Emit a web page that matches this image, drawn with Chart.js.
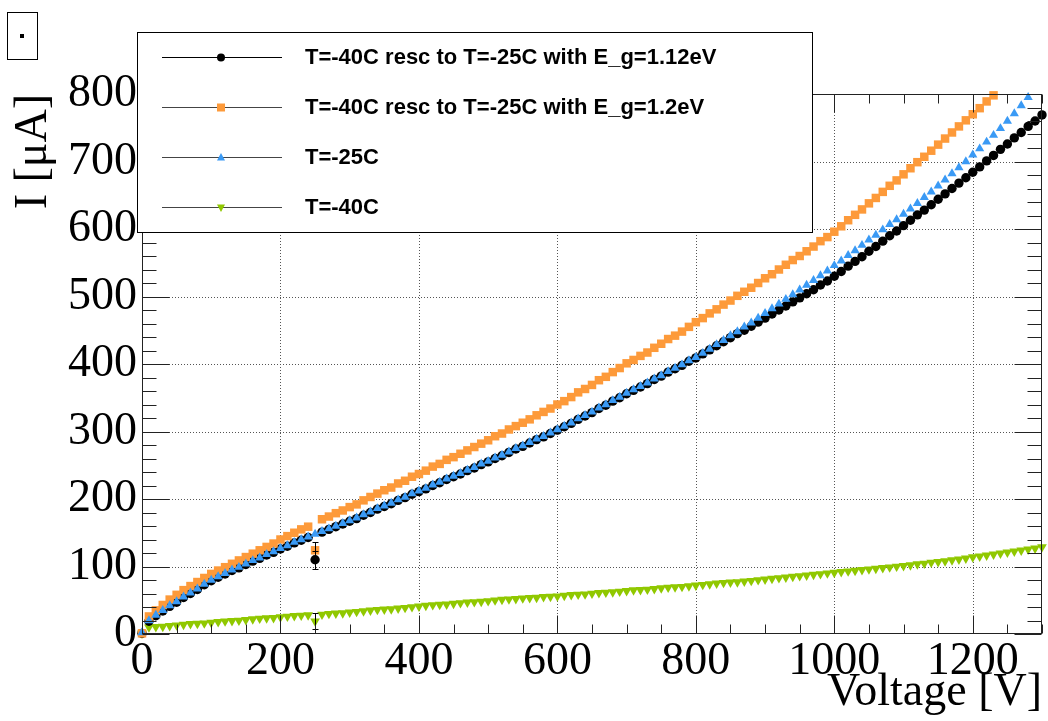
<!DOCTYPE html>
<html>
<head>
<meta charset="utf-8">
<title>IV curve</title>
<script src="https://cdn.jsdelivr.net/npm/chart.js@4.4.1/dist/chart.umd.min.js"></script>
<style>
  html, body { margin: 0; padding: 0; background: #fff; }
  #wrap { width: 1048px; height: 721px; }
</style>
</head>
<body>
<div id="wrap"><canvas id="ivChart" width="1048" height="721"></canvas></div>
<script>
// voltage steps (V)
const volts = [
  0, 10, 20, 30, 40, 50, 60, 70, 80, 90,
  100, 110, 120, 130, 140, 150, 160, 170, 180, 190,
  200, 210, 220, 230, 240, 250, 260, 270, 280, 290,
  300, 310, 320, 330, 340, 350, 360, 370, 380, 390,
  400, 410, 420, 430, 440, 450, 460, 470, 480, 490,
  500, 510, 520, 530, 540, 550, 560, 570, 580, 590,
  600, 610, 620, 630, 640, 650, 660, 670, 680, 690,
  700, 710, 720, 730, 740, 750, 760, 770, 780, 790,
  800, 810, 820, 830, 840, 850, 860, 870, 880, 890,
  900, 910, 920, 930, 940, 950, 960, 970, 980, 990,
  1000, 1010, 1020, 1030, 1040, 1050, 1060, 1070, 1080, 1090,
  1100, 1110, 1120, 1130, 1140, 1150, 1160, 1170, 1180, 1190,
  1200, 1210, 1220, 1230, 1240, 1250, 1260, 1270, 1280, 1290,
  1300
];

// T=-40C rescaled to T=-25C, E_g=1.12eV (uA)
const rescEg112 = [
  1, 19, 27, 34, 41, 47, 54, 60, 66, 73,
  79, 84, 89, 94, 98, 103, 108, 112, 117, 121,
  126, 130, 135, 139, 143, 110, 151, 155, 159, 163,
  167, 171, 176, 180, 185, 189, 193, 198, 202, 207,
  211, 215, 220, 224, 229, 233, 237, 242, 246, 251,
  255, 260, 264, 269, 274, 278, 283, 288, 292, 297,
  302, 307, 312, 318, 323, 328, 334, 339, 345, 350,
  356, 361, 366, 371, 377, 382, 388, 393, 398, 404,
  409, 415, 421, 427, 433, 439, 445, 450, 456, 462,
  468, 474, 480, 486, 492, 498, 504, 510, 517, 523,
  530, 537, 545, 552, 559, 567, 574, 582, 590, 597,
  605, 613, 621, 628, 636, 644, 652, 660, 668, 676,
  684, 692, 701, 709, 718, 726, 735, 743, 752, 760,
  769
];

// T=-40C rescaled to T=-25C, E_g=1.2eV (uA), leaves the frame after 1230 V
const rescEg120 = [
  1, 26, 35, 43, 51, 58, 65, 71, 77, 83,
  89, 94, 99, 104, 109, 114, 119, 124, 129, 134,
  140, 145, 150, 155, 159, 124, 170, 174, 179, 183,
  188, 192, 198, 203, 208, 213, 217, 223, 227, 233,
  237, 242, 248, 252, 258, 262, 267, 272, 277, 282,
  287, 293, 297, 303, 308, 313, 318, 324, 329, 334,
  340, 345, 351, 358, 363, 369, 376, 381, 388, 394,
  401, 406, 412, 417, 424, 430, 437, 442, 448, 455,
  462, 468, 475, 481, 488, 494, 501, 507, 513, 520,
  527, 533, 540, 547, 554, 560, 567, 574, 582, 588,
  596, 604, 613, 621, 629, 638, 646, 655, 664, 672,
  681, 690, 699, 707, 716, 725, 734, 743, 752, 761,
  770, 779, 789, 798
];

// T=-25C measured (uA), leaves the frame after 1280 V
const tMinus25 = [
  2, 20, 28, 35, 42, 48, 55, 61, 67, 74,
  80, 85, 90, 95, 99, 104, 109, 113, 118, 122,
  127, 131, 136, 140, 144, 148, 152, 156, 160, 164,
  168, 172, 177, 181, 186, 190, 194, 199, 203, 208,
  212, 216, 221, 225, 230, 234, 238, 243, 247, 252,
  256, 261, 265, 270, 275, 279, 284, 289, 293, 298,
  303, 308, 313, 319, 324, 329, 335, 340, 346, 351,
  357, 362, 367, 372, 378, 383, 389, 394, 399, 405,
  410, 416, 422, 429, 435, 442, 448, 455, 461, 468,
  475, 482, 489, 496, 503, 510, 517, 524, 531, 538,
  546, 553, 561, 568, 576, 584, 591, 599, 607, 614,
  622, 630, 638, 647, 655, 664, 673, 682, 691, 700,
  710, 719, 729, 739, 749, 760, 771, 783, 795
];

// T=-40C measured (uA)
const tMinus40 = [
  1, 10, 10.5, 11, 12, 13, 14, 15, 15.5, 16,
  17, 18, 19, 19.5, 20, 21, 22, 23, 23.5, 24,
  25, 26, 27, 27.5, 28, 19, 29, 30, 30.5, 31,
  32, 33, 34, 35, 36, 36.5, 37, 38, 39, 40,
  41, 42, 43, 43.5, 44, 45, 46, 47, 47.5, 48,
  49, 50, 51, 51.5, 52, 53, 53.5, 54, 55, 55.5,
  56, 57, 58, 58.5, 59, 60, 61, 61.5, 62, 63,
  64, 65, 65.5, 66, 67, 68, 69, 69.5, 70, 71,
  72, 73, 74, 75, 76, 76.5, 77, 78, 79, 80,
  81, 82, 83, 84, 85, 86, 87, 88, 89, 90,
  91, 92, 93, 94, 95, 96, 97, 98, 99, 100,
  101, 102, 103.5, 104.5, 106, 107, 108, 109.5, 110.5, 112,
  114, 115, 116.5, 118, 119.5, 121, 122.5, 124, 125.5, 127,
  129
];

// the one point with a visible error bar (250 V)
const errVolt = 250;
const errEg112 = [110, 13];
const errEg120 = [124, 12];
const errMinus40 = [19, 12];

const seriesLabels = [
  "T=-40C resc to T=-25C with E_g=1.12eV",
  "T=-40C resc to T=-25C with E_g=1.2eV",
  "T=-25C",
  "T=-40C"
];
const xTicks = [0, 200, 400, 600, 800, 1000, 1200];
const yTicks = [0, 100, 200, 300, 400, 500, 600, 700, 800];

const colBlack = "#000000";
const colOrange = "#fd9a3a";
const colBlue = "#3a9af5";
const colGreen = "#90c800";

function toPoints(ys) {
  return ys.map((y, i) => ({ x: volts[i], y: y }));
}

// little marker shapes for the legend
function marker(ctx, kind, x, y, color) {
  ctx.fillStyle = color;
  ctx.beginPath();
  if (kind === "circle") {
    ctx.arc(x, y, 4, 0, Math.PI * 2);
  } else if (kind === "rect") {
    ctx.rect(x - 4, y - 4, 8, 8);
  } else if (kind === "up") {
    ctx.moveTo(x, y - 4.5); ctx.lineTo(x + 4, y + 3); ctx.lineTo(x - 4, y + 3);
  } else {
    ctx.moveTo(x, y + 4.5); ctx.lineTo(x + 4, y - 3); ctx.lineTo(x - 4, y - 3);
  }
  ctx.closePath();
  ctx.fill();
}

const rootStyle = {
  id: "rootStyle",
  beforeDatasetsDraw(chart) {
    const { ctx, chartArea: a, scales: { x, y } } = chart;
    ctx.save();
    ctx.strokeStyle = "#555";
    ctx.lineWidth = 1;
    ctx.setLineDash([1, 2]);
    xTicks.forEach(v => {
      if (v === 0) return;
      const px = Math.round(x.getPixelForValue(v)) + 0.5;
      ctx.beginPath(); ctx.moveTo(px, a.top); ctx.lineTo(px, a.bottom); ctx.stroke();
    });
    yTicks.forEach(v => {
      if (v === 0 || v === 800) return;
      const py = Math.round(y.getPixelForValue(v)) + 0.5;
      ctx.beginPath(); ctx.moveTo(a.left, py); ctx.lineTo(a.right, py); ctx.stroke();
    });
    ctx.restore();
  },
  afterDatasetsDraw(chart) {
    const { ctx, chartArea: a, scales: { x, y } } = chart;
    ctx.save();
    // error bars at 250 V
    ctx.strokeStyle = "#000";
    ctx.lineWidth = 1;
    const ex = Math.round(x.getPixelForValue(errVolt)) + 0.5;
    [errEg112, errEg120, errMinus40].forEach(e => {
      const top = Math.round(y.getPixelForValue(e[0] + e[1])) + 0.5;
      const bot = Math.round(y.getPixelForValue(e[0] - e[1])) + 0.5;
      ctx.beginPath();
      ctx.moveTo(ex, top); ctx.lineTo(ex, bot);
      ctx.moveTo(ex - 3, top); ctx.lineTo(ex + 3, top);
      ctx.moveTo(ex - 3, bot); ctx.lineTo(ex + 3, bot);
      ctx.stroke();
    });

    // frame and ticks on all four sides
    const L = a.left + 0.5, R = a.right - 0.5, T = a.top + 0.5, B = a.bottom - 0.5;
    ctx.strokeStyle = "#222";
    ctx.strokeRect(L, T, R - L, B - T);
    ctx.beginPath();
    for (let v = 0; v <= 1300; v += 50) {
      const px = Math.round(x.getPixelForValue(v)) + 0.5;
      const len = v % 200 === 0 ? 18 : 9;
      ctx.moveTo(px, B); ctx.lineTo(px, B - len);
      ctx.moveTo(px, T); ctx.lineTo(px, T + len);
    }
    for (let v = 0; v <= 800; v += 20) {
      const py = Math.round(y.getPixelForValue(v)) + 0.5;
      const len = v % 100 === 0 ? 27 : 14;
      ctx.moveTo(L, py); ctx.lineTo(L + len, py);
      ctx.moveTo(R, py); ctx.lineTo(R - len, py);
    }
    ctx.stroke();
    ctx.restore();
  },
  afterDraw(chart) {
    const ctx = chart.ctx;
    ctx.save();
    // empty title box
    ctx.strokeStyle = "#000";
    ctx.lineWidth = 1;
    ctx.strokeRect(7.5, 12.5, 30, 47);
    ctx.fillStyle = "#000";
    ctx.fillRect(20, 34, 4, 4);

    // legend box
    ctx.fillStyle = "#fff";
    ctx.fillRect(138, 33, 674, 199);
    ctx.strokeStyle = "#000";
    ctx.strokeRect(137.5, 32.5, 675, 200);
    const kinds = ["circle", "rect", "up", "down"];
    const cols = [colBlack, colOrange, colBlue, colGreen];
    ctx.font = "bold 22px 'Liberation Sans', Arial, sans-serif";
    ctx.textBaseline = "middle";
    seriesLabels.forEach((txt, i) => {
      const ry = 57 + i * 50;
      ctx.strokeStyle = i === 0 ? "#000" : "#444";
      ctx.beginPath();
      ctx.moveTo(162, ry + 0.5); ctx.lineTo(282, ry + 0.5);
      ctx.stroke();
      marker(ctx, kinds[i], 221, ry + 0.5, cols[i]);
      ctx.fillStyle = "#000";
      ctx.fillText(txt, 305, ry + 1);
    });
    ctx.restore();
  }
};

const serif = { family: "'Liberation Serif', 'Times New Roman', serif", size: 46 };

new Chart(document.getElementById("ivChart"), {
  type: "scatter",
  data: {
    datasets: [
      { label: seriesLabels[0], data: toPoints(rescEg112), order: 2,
        pointStyle: "circle", pointRadius: 4.7, backgroundColor: colBlack, borderWidth: 0, clip: 7 },
      { label: seriesLabels[1], data: toPoints(rescEg120), order: 1,
        pointStyle: "rect", pointRadius: 6, backgroundColor: colOrange, borderWidth: 0, clip: 7 },
      { label: seriesLabels[2], data: toPoints(tMinus25), order: 0,
        pointStyle: "triangle", pointRadius: 5.3, backgroundColor: colBlue, borderWidth: 0, clip: 7 },
      { label: seriesLabels[3], data: toPoints(tMinus40), order: 3,
        pointStyle: "triangle", rotation: 180, pointRadius: 5.6, backgroundColor: colGreen, borderWidth: 0, clip: 7 }
    ]
  },
  options: {
    responsive: false,
    animation: false,
    devicePixelRatio: 1,
    layout: { padding: { top: 94, right: 4, left: 0, bottom: 0 } },
    plugins: { legend: { display: false }, tooltip: { enabled: false } },
    scales: {
      x: {
        type: "linear", min: 0, max: 1300,
        grid: { display: false, drawTicks: false },
        border: { display: false },
        afterBuildTicks: s => { s.ticks = xTicks.map(v => ({ value: v })); },
        afterFit: s => { s.height = 87; },
        ticks: { color: "#000", font: serif, padding: 0, maxRotation: 0, autoSkip: false,
                 callback: v => String(v) },
        title: { display: true, text: "Voltage [V]", align: "end", color: "#000", font: serif,
                 padding: { top: 0, bottom: 0 } }
      },
      y: {
        type: "linear", min: 0, max: 800,
        grid: { display: false, drawTicks: false },
        border: { display: false },
        afterBuildTicks: s => { s.ticks = yTicks.map(v => ({ value: v })); },
        afterFit: s => { s.width = 142; },
        ticks: { color: "#000", font: serif, padding: 5, autoSkip: false,
                 callback: v => String(v) },
        title: { display: true, text: "I [μA]", align: "end", color: "#000", font: serif,
                 padding: { top: 6, bottom: 0 } }
      }
    }
  },
  plugins: [rootStyle]
});
</script>
</body>
</html>
